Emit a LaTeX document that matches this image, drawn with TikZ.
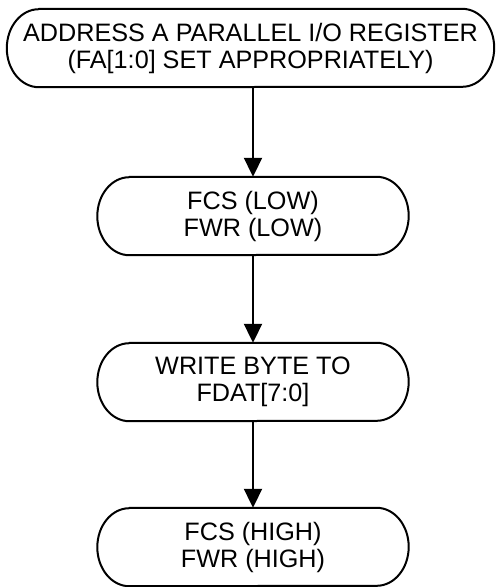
\documentclass[tikz,border=0pt]{standalone}
\usepackage{fontspec}
\setmainfont{Liberation Sans}
\usetikzlibrary{arrows.meta}
\tikzset{
  stepnode/.style={rectangle, draw=none, inner sep=0pt, align=center,
    font=\fontsize{25.2}{27}\selectfont},
  flowarrow/.style={line width=2pt, -{Triangle[width=18pt,length=19pt]}},
  outline/.style={line width=2pt, line join=round}
}
\newcommand{\stadium}[1]{%
  \draw[outline] ([xshift=32pt]#1.north west) -- ([xshift=-32pt]#1.north east)
    arc[start angle=90,end angle=-90,x radius=32pt,y radius=39pt]
    -- ([xshift=32pt]#1.south west)
    arc[start angle=270,end angle=90,x radius=32pt,y radius=39pt] -- cycle;}
\begin{document}
\begin{tikzpicture}[x=1pt,y=1pt]
\useasboundingbox (0,0) rectangle (496,-587);
\node[stepnode, minimum width=487pt, minimum height=78pt] (n1) at (250.5,-48)
  {ADDRESS A PARALLEL I/O REGISTER\\(FA[1:0] SET APPROPRIATELY)};
\node[stepnode, minimum width=311pt, minimum height=78pt] (n2) at (253,-216)
  {FCS (LOW)\\FWR (LOW)};
\node[stepnode, minimum width=311pt, minimum height=78pt] (n3) at (253,-382)
  {WRITE BYTE TO\\FDAT[7:0]};
\node[stepnode, minimum width=311pt, minimum height=78pt] (n4) at (253,-547)
  {FCS (HIGH)\\FWR (HIGH)};
\stadium{n1}
\stadium{n2}
\stadium{n3}
\stadium{n4}
\draw[flowarrow] (n2.north |- n1.south) -- (n2.north);
\draw[flowarrow] (n2.south) -- (n3.north);
\draw[flowarrow] (n3.south) -- (n4.north);
\end{tikzpicture}
\end{document}
